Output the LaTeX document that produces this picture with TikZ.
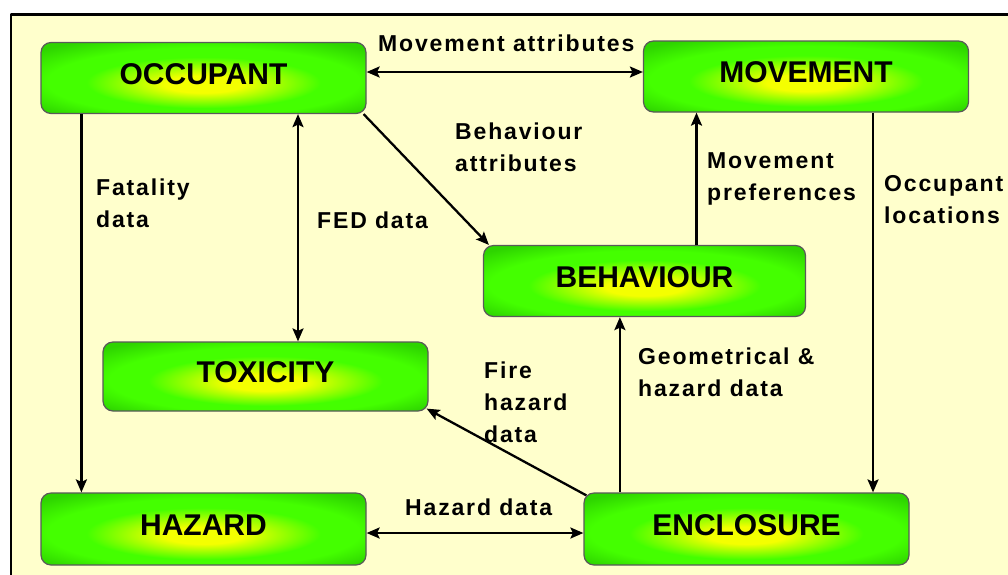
\documentclass[tikz,border=0pt]{standalone}
\usepackage{fontspec}
\setmainfont{Liberation Sans}
\newfontfamily\lblfont[LetterSpace=8]{Liberation Sans}
\usetikzlibrary{arrows.meta}
\definecolor{paper}{HTML}{FFFFCC}
\definecolor{boxgreen}{HTML}{44FF00}
\definecolor{boxrim}{HTML}{2ED400}
\definecolor{boxcore}{HTML}{F4FF00}
\pgfdeclareradialshading{glow}{\pgfpoint{0bp}{-5bp}}{color(0bp)=(boxcore); color(6bp)=(boxcore); color(18bp)=(boxgreen); color(24bp)=(boxgreen); color(33bp)=(boxrim); color(50bp)=(boxrim)}
\tikzset{
  block/.style={draw=black!65, line width=1.2pt, rounded corners=10pt, shading=glow,
    minimum width=325pt, minimum height=71pt, inner sep=0pt, text depth=8pt,
    font=\bfseries\fontsize{30}{30}\selectfont},
  lbl/.style={font=\lblfont\bfseries\fontsize{23}{32}\selectfont, align=left, inner sep=0pt},
  link/.style={line width=2.3pt, ->}
}
\begin{document}
\begin{tikzpicture}[x=1pt, y=-1pt, >={Stealth[length=13pt,width=11pt,inset=2.5pt]}, line join=round]
\useasboundingbox (0,0) rectangle (1008,574);
\clip (0,0) rectangle (1008,574);
\fill[white] (0,0) rectangle (1008,574);
\fill[paper] (11,14.5) rectangle (1020,590);
\draw[line width=2.5pt] (11,590) -- (11,14.5) -- (1020,14.5);
% the six blocks
\node[block] (occupant) at (203.5,78) {OCCUPANT};
\node[block] (movement) at (806,76.5) {MOVEMENT};
\node[block, minimum width=322pt] (behaviour) at (644.5,281) {BEHAVIOUR};
\node[block, minimum height=69pt] (toxicity) at (265.5,376.5) {TOXICITY};
\node[block, minimum height=72pt] (hazard) at (203.5,529) {HAZARD};
\node[block, minimum height=72pt] (enclosure) at (746.5,529) {ENCLOSURE};
% data flows
\draw[link,<->] ([yshift=6pt]occupant.east) -- ([yshift=6pt]occupant.east -| movement.west);
\draw[link] ([xshift=-3pt]occupant.south east) -- ([xshift=6pt]behaviour.north west);
\draw[link] ([xshift=52pt]behaviour.north) -- ([xshift=52pt]behaviour.north |- movement.south);
\draw[link] ([xshift=67pt]movement.south) -- ([xshift=67pt]movement.south |- enclosure.north);
\draw[link] ([xshift=41pt]occupant.south west) -- ([xshift=41pt]occupant.south west |- hazard.north);
\draw[link,<->] ([xshift=32.5pt]toxicity.north |- occupant.south) -- ([xshift=32.5pt]toxicity.north);
\draw[link] ([xshift=3pt,yshift=-3pt]enclosure.north west) -- ([xshift=-2pt,yshift=3pt]toxicity.south east);
\draw[link] ([xshift=36.5pt]enclosure.north west) -- ([xshift=36.5pt]enclosure.north west |- behaviour.south);
\draw[link,<->] ([yshift=-4pt]hazard.east) -- ([yshift=-4pt]hazard.east -| enclosure.west);
% labels
\node[lbl, anchor=base west] (movattr) at (378,51.5) {Movement attributes};
\node[lbl, anchor=base west] (behattr) at (455,171.5) {Behaviour\\attributes};
\node[lbl, anchor=base west] (fatal) at (96,227) {Fatality\\data};
\node[lbl, anchor=base west] (fed) at (317,228) {FED data};
\node[lbl, anchor=base west] (movpref) at (707,200) {Movement\\preferences};
\node[lbl, anchor=base west] (occloc) at (884,223) {Occupant\\locations};
\node[lbl, anchor=base west] (firehaz) at (484,442) {Fire\\hazard\\data};
\node[lbl, anchor=base west] (geohaz) at (638,396) {Geometrical \&\\hazard data};
\node[lbl, anchor=base west] (hazdata) at (405,515) {Hazard data};
\end{tikzpicture}
\end{document}
